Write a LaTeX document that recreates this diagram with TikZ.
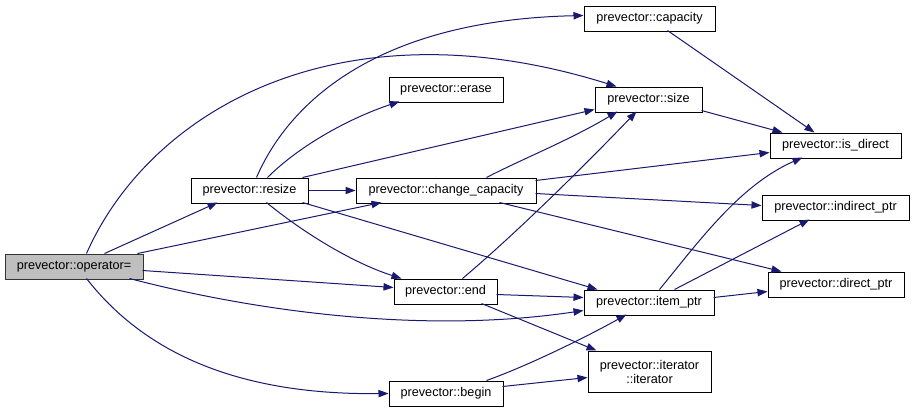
\documentclass[tikz,border=0pt]{standalone}
\usepackage{fontspec}
\setmainfont{Liberation Sans}
\usetikzlibrary{arrows.meta,calc}
\definecolor{edgeblue}{HTML}{191970}
\definecolor{opgray}{HTML}{BFBFBF}
\begin{document}
\begin{tikzpicture}[x=0.75pt,y=-0.75pt,
  box/.style={draw=black, line width=0.75pt, fill=white, inner sep=0pt,
    minimum height=18.75pt, font=\fontsize{9.5}{10.5}\selectfont, align=center},
  edge/.style={draw=edgeblue, line width=0.75pt, -{Triangle[length=7.5pt,width=5.5pt]}}]
\fill[white] (0,0) rectangle (915,412);
\useasboundingbox (0,0) rectangle (915,412);

\node[box, minimum width=103.5pt, fill=opgray, draw=black!80] (op) at (74,266.5) {prevector::operator=};
\node[box, minimum width=87.75pt] (resize) at (249.5,190.5) {prevector::resize};
\node[box, minimum width=85.5pt] (erase) at (446,89.5) {prevector::erase};
\node[box, minimum width=98.25pt] (capacity) at (649.5,18.5) {prevector::capacity};
\node[box, minimum width=80.25pt] (size) at (648.5,99.5) {prevector::size};
\node[box, minimum width=135pt] (cc) at (446,190.5) {prevector::change\_capacity};
\node[box, minimum width=98.25pt] (isdirect) at (835.5,145.5) {prevector::is\_direct};
\node[box, minimum width=110.25pt] (indirect) at (835.5,207.5) {prevector::indirect\_ptr};
\node[box, minimum width=102pt] (direct) at (836,284.5) {prevector::direct\_ptr};
\node[box, minimum width=77.25pt] (end) at (445.5,291.5) {prevector::end};
\node[box, minimum width=97.5pt] (itemptr) at (649,302.5) {prevector::item\_ptr};
\node[box, minimum width=92.25pt, minimum height=30.75pt] (iter) at (649.5,371.5) {prevector::iterator\\::iterator};
\node[box, minimum width=85.5pt] (begin) at (446,393.5) {prevector::begin};

% from operator=
\draw[edge] ($(op.north west)+(100,0)$) -- ($(resize.north west)+(27,25)$);
\draw[edge] ($(op.north west)+(82,0)$) .. controls (150,110) and (340,0) .. ($(size.north west)+(22,0)$);
\draw[edge] ($(op.north west)+(133,0)$) -- ($(cc.north west)+(26,25)$);
\draw[edge] ($(op.north west)+(138,17)$) -- ($(end.north west)+(0,9)$);
\draw[edge] ($(op.north west)+(125,25)$) .. controls (250,310) and (420,335) .. ($(itemptr.north west)+(0,21)$);
\draw[edge] ($(op.north west)+(82,25)$) .. controls (150,360) and (250,395) .. ($(begin.north west)+(0,13)$);

% from resize
\draw[edge] ($(resize.north west)+(66,0)$) .. controls (290,100) and (380,20) .. ($(capacity.north west)+(0,10)$);
\draw[edge] ($(resize.north west)+(77,0)$) .. controls (300,145) and (350,118) .. ($(erase.north west)+(11,25)$);
\draw[edge] ($(resize.north west)+(112,0)$) -- ($(size.north west)+(0,23)$);
\draw[edge] (resize.east) -- (cc.west);
\draw[edge] ($(resize.north west)+(76,25)$) .. controls (300,230) and (350,262) .. ($(end.north west)+(8,0)$);
\draw[edge] ($(resize.north west)+(112,25)$) -- ($(itemptr.north west)+(14,0)$);

% from change_capacity
\draw[edge] ($(cc.north west)+(131,0)$) .. controls (520,160) and (570,140) .. ($(size.north west)+(23,25)$);
\draw[edge] ($(cc.north west)+(180,3)$) -- ($(isdirect.north west)+(0,20)$);
\draw[edge] ($(cc.north west)+(180,16)$) -- ($(indirect.north west)+(0,11)$);
\draw[edge] ($(cc.north west)+(144,25)$) -- ($(direct.north west)+(14,0)$);

% from capacity, size
\draw[edge] ($(capacity.north west)+(84,25)$) -- ($(isdirect.north west)+(45,0)$);
\draw[edge] ($(size.north west)+(107,24)$) -- ($(isdirect.north west)+(13,0)$);

% from end
\draw[edge] ($(end.north west)+(69,0)$) .. controls (520,230) and (590,160) .. ($(size.north west)+(42,25)$);
\draw[edge] ($(end.north west)+(103,16)$) -- ($(itemptr.north west)+(0,8)$);
\draw[edge] ($(end.north west)+(88,25)$) -- ($(iter.north west)+(9,0)$);

% from item_ptr
\draw[edge] ($(itemptr.north west)+(76,0)$) .. controls (700,240) and (740,185) .. ($(isdirect.north west)+(33,25)$);
\draw[edge] ($(itemptr.north west)+(91,0)$) -- ($(indirect.north west)+(48,25)$);
\draw[edge] ($(itemptr.north west)+(130,8)$) -- ($(direct.north west)+(0,20)$);

% from begin
\draw[edge] ($(begin.north west)+(98,0)$) .. controls (530,365) and (590,335) .. ($(itemptr.north west)+(43,25)$);
\draw[edge] ($(begin.north west)+(114,6)$) -- ($(iter.north west)+(0,27)$);
\end{tikzpicture}
\end{document}
